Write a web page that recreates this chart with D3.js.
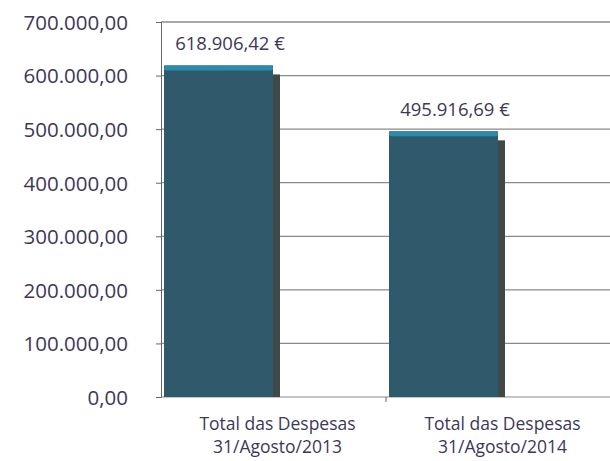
<!DOCTYPE html>
<html>
<head>
<meta charset="utf-8">
<script src="https://cdn.jsdelivr.net/npm/d3@7"></script>
<style>
  body { margin: 0; background: #fff; }
  svg text { font-family: "Open Sans", "Noto Sans", sans-serif; }
</style>
</head>
<body>
<div id="viz"></div>
<script>
const categories = ['Total das Despesas|31/Agosto/2013', 'Total das Despesas|31/Agosto/2014'];
const values = [618906.42, 495916.69];
const valueLabels = ['618.906,42 €', '495.916,69 €'];
const yTicks = [0, 100000, 200000, 300000, 400000, 500000, 600000, 700000];

const width = 610;
const height = 461;

const svg = d3.select('#viz')
              .append('svg')
              .attr('width', width)
              .attr('height', height);

const yScale = d3.scaleLinear().domain([0, 700000]).range([397, 22]);
const xScale = d3.scaleBand().domain(categories).range([161, 611]);

const ptFormat = d3.formatLocale({ decimal: ',', thousands: '.', grouping: [3], currency: ['', ' €'] }).format(',.2f');

// gridlines
svg.append('g')
   .selectAll('line')
   .data(yTicks)
   .enter()
   .append('line')
   .attr('x1', 161)
   .attr('x2', width)
   .attr('y1', d => yScale(d))
   .attr('y2', d => yScale(d))
   .attr('stroke', d => d === 700000 ? '#555' : '#8a8a8a')
   .attr('stroke-width', 1.2);

// y axis
const yAxis = d3.axisLeft(yScale).tickValues(yTicks).tickSize(5).tickPadding(28).tickFormat(ptFormat);
const yG = svg.append('g')
   .attr('transform', 'translate(161, 0)')
   .call(yAxis);
yG.select('.domain').attr('stroke', '#666');
yG.selectAll('.tick line').attr('stroke', '#666');
yG.selectAll('.tick text')
  .attr('fill', '#3e3858')
  .style('font-size', '20.5px')
  .attr('dy', '0.36em');

// x axis ticks between categories
svg.append('g')
   .selectAll('line')
   .data(categories)
   .enter()
   .append('line')
   .attr('x1', d => xScale(d) + xScale.bandwidth())
   .attr('x2', d => xScale(d) + xScale.bandwidth())
   .attr('y1', yScale(0))
   .attr('y2', yScale(0) + 5)
   .attr('stroke', '#666');

// bar shadow (3D depth)
svg.selectAll('rect.shadow')
   .data(values)
   .enter()
   .append('rect')
   .attr('class', 'shadow')
   .attr('x', (d, i) => xScale(categories[i]) + 10)
   .attr('y', d => yScale(d) + 9)
   .attr('width', 109)
   .attr('height', d => yScale(0) - yScale(d) - 9)
   .attr('fill', '#404848');

// bar face
svg.selectAll('rect.bar')
   .data(values)
   .enter()
   .append('rect')
   .attr('class', 'bar')
   .attr('x', (d, i) => xScale(categories[i]) + 3)
   .attr('y', d => yScale(d))
   .attr('width', 109)
   .attr('height', d => yScale(0) - yScale(d))
   .attr('fill', '#2e5a6b');

// bar top cap
svg.selectAll('rect.cap')
   .data(values)
   .enter()
   .append('rect')
   .attr('class', 'cap')
   .attr('x', (d, i) => xScale(categories[i]) + 3)
   .attr('y', d => yScale(d))
   .attr('width', 109)
   .attr('height', 5)
   .attr('rx', 2)
   .attr('fill', '#2a8bab');

// value labels
svg.selectAll('text.value')
   .data(values)
   .enter()
   .append('text')
   .attr('class', 'value')
   .attr('x', (d, i) => xScale(categories[i]) + 69)
   .attr('y', d => yScale(d) - 15)
   .attr('text-anchor', 'middle')
   .attr('fill', '#3e3858')
   .style('font-size', '18.5px')
   .text((d, i) => valueLabels[i]);

// category labels
categories.forEach((c, i) => {
    const cx = xScale(c) + xScale.bandwidth() / 2 + 4;
    const t = svg.append('text')
       .attr('x', cx)
       .attr('y', 430)
       .attr('text-anchor', 'middle')
       .attr('fill', '#3e3858')
       .style('font-size', '17.5px');
    c.split('|').forEach((line, j) => {
        t.append('tspan')
         .attr('x', cx)
         .attr('dy', j === 0 ? 0 : 23)
         .text(line);
    });
});
</script>
</body>
</html>
